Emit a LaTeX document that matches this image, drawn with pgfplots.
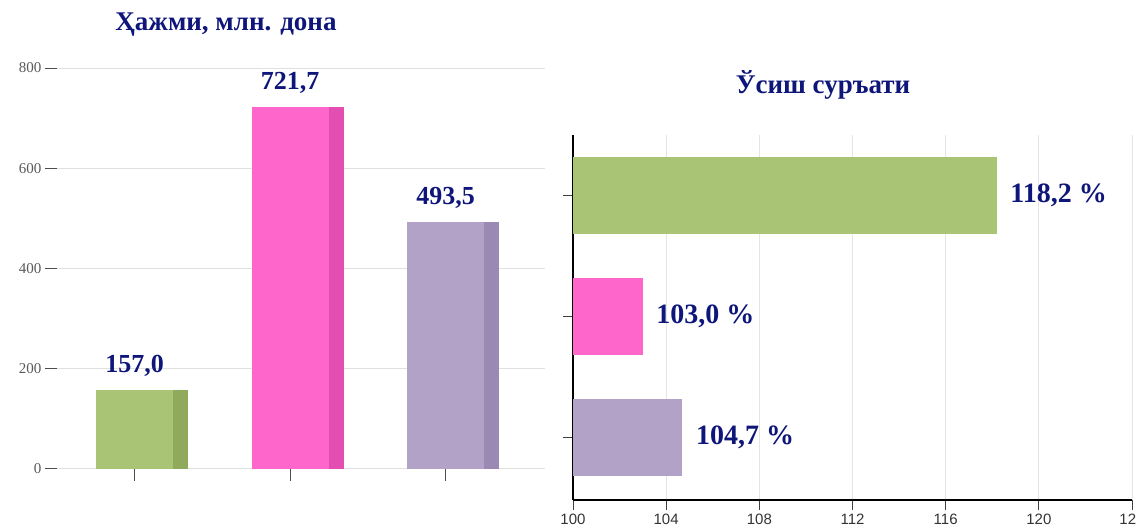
\documentclass[border=0pt]{standalone}
\usepackage{pgfplots}
\pgfplotsset{compat=1.18}
\pgfplotsset{/pgf/number format/assume math mode=true}
\usepackage{fontspec}
\setmainfont{Liberation Serif}
\newfontfamily\sansf{Liberation Sans}
\definecolor{navy}{RGB}{14,22,122}
\definecolor{gfront}{HTML}{A9C475}
\definecolor{gside}{HTML}{8FAA5A}
\definecolor{pfront}{HTML}{FF66CC}
\definecolor{pside}{HTML}{E24FB0}
\definecolor{vfront}{HTML}{B2A2C8}
\definecolor{vside}{HTML}{9A89B2}
\begin{document}
\begin{tikzpicture}[x=1pt,y=1pt]
\useasboundingbox (0,0) rectangle (1136,525);
\node[font=\fontsize{27}{30}\selectfont\bfseries, text=navy] at (226,500) {Ҳажми, млн. дона};
\node[font=\fontsize{27}{30}\selectfont\bfseries, text=navy] at (823,440) {Ўсиш суръати};
% left chart
\begin{axis}[
  at={(57pt,56pt)}, anchor=south west,
  scale only axis, width=488pt, height=401pt,
  xmin=-0.5, xmax=2.64, ymin=0, ymax=800,
  ytick={0,200,...,800}, xtick={0,1,2}, xticklabels={},
  ymajorgrids, grid style={black!12, line width=1pt},
  axis line style={draw=none},
  tick align=outside, major tick length=12pt,
  xtick pos=bottom, ytick pos=left,
  tick style={black!70, line width=1pt},
  yticklabel style={font=\fontsize{15}{15}\selectfont, text=black!65},
  ybar, clip=false,
]
\addplot[fill=gside, draw=none, bar width=15pt, bar shift=46pt] coordinates {(0,157.0)};
\addplot[fill=pside, draw=none, bar width=15pt, bar shift=46pt] coordinates {(1,721.7)};
\addplot[fill=vside, draw=none, bar width=15pt, bar shift=46pt] coordinates {(2,493.5)};
\pgfplotsset{every axis plot/.append style={bar width=77pt, bar shift=0pt, draw=none,
  nodes near coords={\pgfmathprintnumber[fixed,fixed zerofill,precision=1,use comma]{\pgfplotspointmeta}},
  every node near coord/.append style={font=\fontsize{26}{26}\selectfont\bfseries, text=navy, yshift=10pt}}}
\addplot[fill=gfront] coordinates {(0,157.0)};
\addplot[fill=pfront] coordinates {(1,721.7)};
\addplot[fill=vfront] coordinates {(2,493.5)};
\end{axis}
% right chart
\begin{axis}[
  at={(573pt,25pt)}, anchor=south west,
  scale only axis, width=559pt, height=365pt,
  xmin=100, xmax=124, ymin=-0.52, ymax=2.496,
  xtick={100,104,...,124}, ytick={0,1,2}, yticklabels={},
  xmajorgrids, grid style={black!10, line width=1pt},
  axis x line*=bottom, axis y line*=left,
  axis line style={black, line width=1.5pt},
  tick align=outside, major tick length=10pt,
  tick style={black!75, line width=1pt},
  xticklabel style={font=\sansf\fontsize{15}{15}\selectfont, text=black!80},
  xbar, bar width=77pt,
]
\pgfplotsset{every axis plot/.append style={bar shift=0pt, draw=none,
  nodes near coords={\pgfmathprintnumber[fixed,fixed zerofill,precision=1,use comma]{\pgfplotspointmeta}~\%},
  every node near coord/.append style={font=\fontsize{28}{28}\selectfont\bfseries, text=navy, anchor=west, xshift=10pt}}}
\addplot[fill=gfront] coordinates {(118.2,2)};
\addplot[fill=pfront] coordinates {(103.0,1)};
\addplot[fill=vfront] coordinates {(104.7,0)};
\end{axis}
\end{tikzpicture}
\end{document}
